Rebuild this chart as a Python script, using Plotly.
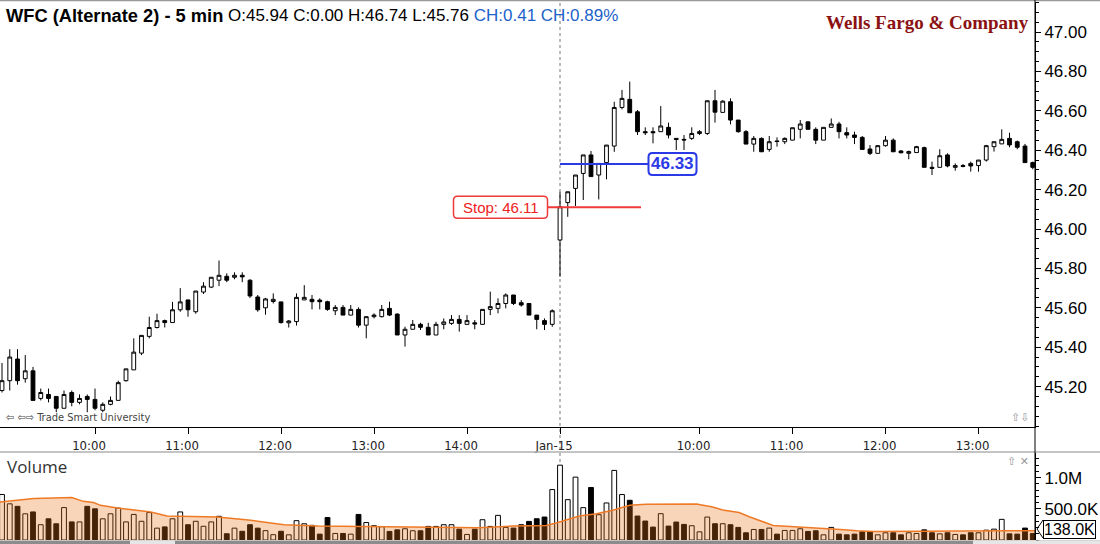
import plotly.graph_objects as go

# ---------------- data ----------------
opens = [45.18, 45.23, 45.34, 45.24, 45.28, 45.14, 45.16, 45.15, 45.09, 45.17,
         45.12, 45.15, 45.135, 45.08, 45.11, 45.13, 45.23, 45.285, 45.37, 45.455,
         45.50, 45.535, 45.525, 45.59, 45.64, 45.58, 45.68, 45.705, 45.74, 45.76,
         45.755, 45.765, 45.74, 45.655, 45.60, 45.632, 45.63, 45.524, 45.53, 45.64,
         45.643, 45.639, 45.631, 45.585, 45.602, 45.563, 45.592, 45.512, 45.555, 45.555,
         45.597, 45.568, 45.462, 45.491, 45.516, 45.501, 45.462, 45.516, 45.521, 45.541,
         45.516, 45.524, 45.516, 45.592, 45.597, 45.622, 45.665, 45.626, 45.622, 45.563,
         45.535, 45.516,
         45.944, 46.134, 46.206, 46.282, 46.376, 46.274, 46.337, 46.421, 46.617, 46.658,
         46.595, 46.494, 46.494, 46.494, 46.516, 46.460, 46.455, 46.460, 46.485, 46.485,
         46.651, 46.592, 46.646, 46.553, 46.494, 46.431, 46.460, 46.404, 46.447, 46.443,
         46.451, 46.506, 46.544, 46.506, 46.451, 46.516, 46.533, 46.489, 46.477, 46.465,
         46.406, 46.384, 46.423, 46.451, 46.396, 46.384, 46.388, 46.413, 46.313, 46.313,
         46.376, 46.313, 46.322, 46.333, 46.322, 46.350, 46.418, 46.432, 46.460, 46.443,
         46.421, 46.337]
highs = [45.32, 45.39, 45.39, 45.36, 45.30, 45.19, 45.19, 45.15, 45.18, 45.18,
         45.16, 45.16, 45.19, 45.12, 45.15, 45.23, 45.29, 45.445, 45.46, 45.555,
         45.57, 45.54, 45.63, 45.70, 45.64, 45.685, 45.73, 45.755, 45.84, 45.775,
         45.78, 45.78, 45.745, 45.665, 45.65, 45.673, 45.63, 45.538, 45.673, 45.715,
         45.665, 45.648, 45.636, 45.614, 45.614, 45.614, 45.602, 45.555, 45.572, 45.614,
         45.631, 45.572, 45.504, 45.538, 45.524, 45.524, 45.529, 45.546, 45.563, 45.563,
         45.563, 45.538, 45.592, 45.682, 45.648, 45.673, 45.665, 45.639, 45.622, 45.563,
         45.546, 45.592,
         46.189, 46.189, 46.274, 46.376, 46.396, 46.333, 46.426, 46.646, 46.706, 46.748,
         46.604, 46.516, 46.516, 46.624, 46.540, 46.460, 46.477, 46.516, 46.502, 46.651,
         46.706, 46.654, 46.663, 46.553, 46.502, 46.472, 46.465, 46.472, 46.465, 46.465,
         46.514, 46.553, 46.544, 46.516, 46.516, 46.561, 46.544, 46.516, 46.494, 46.472,
         46.426, 46.426, 46.472, 46.460, 46.401, 46.398, 46.422, 46.418, 46.342, 46.405,
         46.384, 46.333, 46.330, 46.342, 46.350, 46.427, 46.443, 46.506, 46.489, 46.449,
         46.432, 46.342]
lows = [45.17, 45.18, 45.21, 45.22, 45.13, 45.13, 45.12, 45.07, 45.09, 45.10,
        45.11, 45.07, 45.08, 45.07, 45.105, 45.13, 45.225, 45.285, 45.36, 45.445,
        45.495, 45.50, 45.525, 45.58, 45.555, 45.57, 45.67, 45.70, 45.71, 45.73,
        45.745, 45.73, 45.65, 45.58, 45.565, 45.622, 45.52, 45.50, 45.51, 45.64,
        45.592, 45.592, 45.585, 45.563, 45.563, 45.563, 45.50, 45.445, 45.546, 45.551,
        45.558, 45.462, 45.403, 45.491, 45.487, 45.462, 45.462, 45.491, 45.513, 45.479,
        45.513, 45.491, 45.516, 45.563, 45.572, 45.597, 45.614, 45.606, 45.563, 45.491,
        45.487, 45.504,
        45.758, 46.062, 46.117, 46.147, 46.266, 46.150, 46.252, 46.392, 46.607, 46.590,
        46.477, 46.477, 46.435, 46.494, 46.460, 46.401, 46.401, 46.452, 46.477, 46.477,
        46.540, 46.592, 46.531, 46.489, 46.431, 46.392, 46.392, 46.392, 46.418, 46.431,
        46.451, 46.460, 46.506, 46.431, 46.451, 46.516, 46.460, 46.460, 46.431, 46.404,
        46.375, 46.384, 46.418, 46.392, 46.384, 46.354, 46.388, 46.313, 46.274, 46.313,
        46.313, 46.296, 46.313, 46.291, 46.291, 46.342, 46.393, 46.432, 46.415, 46.405,
        46.337, 46.303]
closes = [45.23, 45.35, 45.23, 45.28, 45.13, 45.17, 45.14, 45.09, 45.16, 45.12,
          45.14, 45.135, 45.09, 45.11, 45.13, 45.22, 45.29, 45.375, 45.46, 45.50,
          45.535, 45.525, 45.59, 45.63, 45.59, 45.685, 45.71, 45.755, 45.765, 45.74,
          45.765, 45.757, 45.66, 45.59, 45.645, 45.643, 45.525, 45.533, 45.653, 45.653,
          45.631, 45.631, 45.592, 45.602, 45.563, 45.592, 45.512, 45.555, 45.563, 45.592,
          45.563, 45.462, 45.491, 45.516, 45.501, 45.462, 45.516, 45.528, 45.541, 45.521,
          45.535, 45.518, 45.592, 45.606, 45.622, 45.665, 45.622, 45.614, 45.563, 45.541,
          45.516, 45.585,
          46.113, 46.189, 46.274, 46.376, 46.266, 46.333, 46.426, 46.617, 46.663, 46.590,
          46.494, 46.489, 46.489, 46.523, 46.477, 46.455, 46.452, 46.485, 46.494, 46.651,
          46.593, 46.649, 46.553, 46.494, 46.431, 46.460, 46.392, 46.443, 46.444, 46.460,
          46.514, 46.533, 46.506, 46.451, 46.516, 46.533, 46.494, 46.477, 46.465, 46.404,
          46.384, 46.423, 46.451, 46.392, 46.387, 46.393, 46.418, 46.313, 46.308, 46.372,
          46.320, 46.322, 46.318, 46.320, 46.350, 46.423, 46.443, 46.455, 46.427, 46.415,
          46.337, 46.313]
# volume in millions of shares
volumes = [0.73, 0.58, 0.54, 0.42, 0.45, 0.245, 0.34, 0.26, 0.52, 0.29,
           0.29, 0.54, 0.50, 0.34, 0.42, 0.51, 0.29, 0.41, 0.30, 0.44,
           0.19, 0.21, 0.34, 0.45, 0.245, 0.30, 0.22, 0.29, 0.38, 0.10,
           0.19, 0.14, 0.245, 0.19, 0.15, 0.085, 0.14, 0.083, 0.31, 0.26,
           0.235, 0.094, 0.36, 0.105, 0.105, 0.094, 0.41, 0.28, 0.229, 0.213,
           0.137, 0.163, 0.180, 0.148, 0.148, 0.218, 0.218, 0.245, 0.245, 0.174,
           0.089, 0.174, 0.325, 0.218, 0.395, 0.202, 0.191, 0.245, 0.298, 0.341,
           0.368, 0.809,
           1.20, 0.647, 1.008, 0.519, 0.842, 0.406, 0.594, 1.116, 0.729, 0.637,
           0.384, 0.304, 0.207, 0.422, 0.223, 0.288, 0.250, 0.229, 0.131, 0.368,
           0.261, 0.261, 0.245, 0.202, 0.116, 0.169, 0.169, 0.191, 0.094, 0.153,
           0.153, 0.180, 0.137, 0.148, 0.083, 0.202, 0.094, 0.083, 0.094, 0.131,
           0.131, 0.083, 0.116, 0.116, 0.083, 0.116, 0.105, 0.163, 0.116, 0.099,
           0.116, 0.089, 0.083, 0.116, 0.116, 0.158, 0.174, 0.331, 0.099, 0.094,
           0.191, 0.105]
# volume average line, read at points along the curve (bar position, millions)
vol_avg_pos = [-0.3, 4.1, 9.0, 10.5, 11.8, 12.7, 14.9, 17.0, 19.2, 21.3, 27.8, 32.1,
               36.4, 40.8, 46.4, 52.0, 59.3, 61.5, 65.9, 70.2, 71.5, 73.2, 74.5,
               76.7, 78.8, 81.0, 83.1, 89.6, 91.7, 93.0, 95.1, 96.5, 99.5, 101.7,
               103.8, 106.0, 108.2, 110.3, 112.5, 129.8, 133.5]
vol_avg = [0.61, 0.664, 0.68, 0.62, 0.60, 0.556, 0.514, 0.487, 0.449, 0.384, 0.368, 0.315,
           0.245, 0.223, 0.215, 0.207, 0.207, 0.196, 0.223, 0.234, 0.272, 0.341, 0.384,
           0.422, 0.476, 0.556, 0.573, 0.578, 0.530, 0.48, 0.44, 0.368, 0.234, 0.218,
           0.202, 0.196, 0.169, 0.148, 0.137, 0.148, 0.15]

time_tick_bars = [12, 24, 36, 48, 60, 72, 90, 102, 114, 126]
time_tick_labels = ["10:00", "11:00", "12:00", "13:00", "14:00", "Jan-15",
                    "10:00", "11:00", "12:00", "13:00"]
price_ticks = [45.2, 45.4, 45.6, 45.8, 46.0, 46.2, 46.4, 46.6, 46.8, 47.0]
vol_ticks = [0.5, 1.0]
vol_tick_labels = ["500.0K", "1.0M"]

session_start_bar = 72
entry_price = 46.33
stop_price = 46.11
last_avg_label = "138.0K"

# ---------------- figure ----------------
W, H = 1100, 544
PLOT_R = 1035           # right edge of plot area (px)
PLOT_H = 540            # plot area height (t=0, b=4)
BAR_PX = 7.75
X0_PX = 2.0

def px_to_bar(px):
    return (px - X0_PX) / BAR_PX

def xp(px):            # pixel -> paper x
    return px / PLOT_R

def yp(py):            # pixel -> paper y
    return (PLOT_H - py) / PLOT_H

idx = list(range(len(opens)))
vol_colors = ["white" if c >= o else "black" for o, c in zip(opens, closes)]

fig = go.Figure()
fig.add_trace(go.Candlestick(
    x=idx, open=opens, high=highs, low=lows, close=closes,
    increasing=dict(line=dict(color="black", width=1), fillcolor="white"),
    decreasing=dict(line=dict(color="black", width=1), fillcolor="black"),
    whiskerwidth=0, hoverinfo="skip", showlegend=False,
    xaxis="x", yaxis="y"))
fig.add_trace(go.Bar(
    x=idx, y=volumes, width=0.62,
    marker=dict(color=vol_colors, line=dict(color="black", width=1)),
    hoverinfo="skip", showlegend=False, xaxis="x2", yaxis="y2"))
fig.add_trace(go.Scatter(
    x=vol_avg_pos, y=vol_avg, mode="lines", fill="tozeroy",
    fillcolor="rgba(232,112,24,0.30)", line=dict(color="#ee7a26", width=1.5),
    hoverinfo="skip", showlegend=False, xaxis="x2", yaxis="y2"))

xr = [px_to_bar(0), px_to_bar(PLOT_R)]
price_top = 47.0 + (32 - 2) / 197.0
price_bot = 47.0 - (427 - 32) / 197.0

axis_font = dict(family="Liberation Sans Narrow, DejaVu Sans Condensed, Arial", size=13, color="#222")
fig.update_layout(
    width=W, height=H,
    margin=dict(l=0, r=W - PLOT_R, t=0, b=H - PLOT_H),
    paper_bgcolor="white", plot_bgcolor="white",
    boxgap=0.3,
    xaxis=dict(domain=[0, 1], range=xr, anchor="y", tickvals=time_tick_bars,
               ticktext=time_tick_labels, ticks="outside", ticklen=6, tickcolor="black",
               showline=True, linecolor="black", linewidth=1, showgrid=False,
               zeroline=False, rangeslider=dict(visible=False), tickfont=axis_font,
               ticklabelshift=-6),
    yaxis=dict(domain=[yp(427), yp(2)], range=[price_bot, price_top], side="right",
               anchor="x", tickvals=price_ticks,
               ticktext=["%.2f" % v for v in price_ticks], ticks="outside",
               ticklen=5, tickcolor="black", showline=True, linecolor="black",
               showgrid=False, zeroline=False,
               tickfont=dict(family="Arial, Liberation Sans", size=17, color="black"),
               minor=dict(dtick=0.05, tick0=45.0, ticks="outside", ticklen=3,
                          tickcolor="black", showgrid=False)),
    xaxis2=dict(domain=[0, 1], range=xr, anchor="y2", showticklabels=False,
                showline=False, showgrid=False, zeroline=False, ticks=""),
    yaxis2=dict(domain=[0, yp(453)], range=[0, (539.5 - 453) / 62.0], side="right",
                anchor="x2", tickvals=vol_ticks, ticktext=vol_tick_labels,
                ticks="outside", ticklen=5, tickcolor="black", showline=True,
                linecolor="black", showgrid=False, zeroline=False,
                tickfont=dict(family="Arial, Liberation Sans", size=17, color="black"),
                minor=dict(dtick=0.1, tick0=0, ticks="outside", ticklen=3,
                           tickcolor="black", showgrid=False)),
)

def rrect(w, h, r):
    a, b = w / 2.0, h / 2.0
    return (f"M {-a + r},{-b} L {a - r},{-b} Q {a},{-b} {a},{-b + r} "
            f"L {a},{b - r} Q {a},{b} {a - r},{b} L {-a + r},{b} Q {-a},{b} {-a},{b - r} "
            f"L {-a},{-b + r} Q {-a},{-b} {-a + r},{-b} Z")

shapes = []
# session divider (beneath the candles)
shapes.append(dict(type="line", xref="x", yref="paper", x0=session_start_bar,
                   x1=session_start_bar, y0=0, y1=1, layer="below",
                   line=dict(color="#777", width=1, dash="3px,3px")))
# entry line + label box
shapes.append(dict(type="line", xref="x", yref="y", x0=px_to_bar(560), x1=px_to_bar(697),
                   y0=entry_price, y1=entry_price, line=dict(color="#2a3ae6", width=2)))
shapes.append(dict(type="path", xref="x", yref="y", xsizemode="pixel", ysizemode="pixel",
                   xanchor=px_to_bar(672.5), yanchor=entry_price, path=rrect(48, 22, 4),
                   fillcolor="white", line=dict(color="#2a3ae6", width=2)))
# stop line + label box
shapes.append(dict(type="line", xref="x", yref="y", x0=px_to_bar(547), x1=px_to_bar(641),
                   y0=stop_price, y1=stop_price, line=dict(color="#f03a3a", width=2)))
shapes.append(dict(type="path", xref="x", yref="y", xsizemode="pixel", ysizemode="pixel",
                   xanchor=px_to_bar(500.5), yanchor=stop_price, path=rrect(94, 22, 4),
                   fillcolor="white", line=dict(color="#f03a3a", width=1.5)))
# panel borders
shapes.append(dict(type="line", xref="paper", yref="paper", x0=0, x1=W / PLOT_R,
                   y0=yp(0.5), y1=yp(0.5), line=dict(color="#9a9a9a", width=1.5)))
shapes.append(dict(type="line", xref="paper", yref="paper", x0=0, x1=W / PLOT_R,
                   y0=yp(452), y1=yp(452), line=dict(color="#b0b0b0", width=1.5)))
shapes.append(dict(type="line", xref="paper", yref="paper", x0=1, x1=1,
                   y0=0, y1=1, line=dict(color="black", width=1)))
# pointer of the last-average label
shapes.append(dict(type="path", xref="paper", yref="paper", xsizemode="pixel",
                   ysizemode="pixel", xanchor=1, yanchor=yp(529),
                   path="M 8,9 L 2,0 L 8,-9", line=dict(color="black", width=1)))
# scroll bar at the bottom
shapes.append(dict(type="rect", xref="paper", yref="paper", x0=0, x1=W / PLOT_R,
                   y0=yp(544), y1=yp(540.5), line=dict(width=0), fillcolor="#8c8c8c"))
shapes.append(dict(type="rect", xref="paper", yref="paper", x0=xp(130), x1=xp(175),
                   y0=yp(544), y1=yp(540.5), line=dict(width=0), fillcolor="#e6e6e6"))
shapes.append(dict(type="rect", xref="paper", yref="paper", x0=xp(973), x1=W / PLOT_R,
                   y0=yp(544), y1=yp(540.5), line=dict(width=0), fillcolor="#e6e6e6"))
fig.update_layout(shapes=shapes)

ann = []
ann.append(dict(xref="paper", yref="paper", x=xp(4), y=yp(15), xanchor="left",
                yanchor="middle", showarrow=False, text="<b>WFC (Alternate 2) - 5 min</b>",
                font=dict(family="Arial, Liberation Sans", size=18.3, color="black")))
ann.append(dict(xref="paper", yref="paper", x=xp(226), y=yp(15), xanchor="left",
                yanchor="middle", showarrow=False,
                text=("O:45.94 C:0.00 H:46.74 L:45.76 "
                      "<span style='color:#1d62c9'>CH:0.41 CH:0.89%</span>"),
                font=dict(family="Arial, Liberation Sans", size=17, color="black")))
ann.append(dict(xref="paper", yref="paper", x=xp(1031), y=yp(22), xanchor="right",
                yanchor="middle", showarrow=False, text="<b>Wells Fargo &amp; Company</b>",
                font=dict(family="Liberation Serif, Times New Roman, serif", size=19,
                          color="#8b1212")))
ann.append(dict(xref="x", yref="y", x=px_to_bar(672.5), y=entry_price, showarrow=False,
                text="<b>46.33</b>", xanchor="center", yanchor="middle",
                font=dict(family="Arial, Liberation Sans", size=17, color="#2a3ae6")))
ann.append(dict(xref="x", yref="y", x=px_to_bar(500.5), y=stop_price, showarrow=False,
                text="Stop: 46.11", xanchor="center", yanchor="middle",
                font=dict(family="Arial, Liberation Sans", size=15, color="#ee2222")))
ann.append(dict(xref="paper", yref="paper", x=xp(4), y=yp(417), xanchor="left",
                yanchor="middle", showarrow=False, text="⇦ ⇦⇨ Trade Smart University",
                font=dict(family="DejaVu Sans Condensed, DejaVu Sans", size=11, color="#444")))
ann.append(dict(xref="paper", yref="paper", x=xp(1031), y=yp(417), xanchor="right",
                yanchor="middle", showarrow=False, text="⇧⇩",
                font=dict(family="DejaVu Sans", size=11, color="#999")))
ann.append(dict(xref="paper", yref="paper", x=xp(5), y=yp(466), xanchor="left",
                yanchor="middle", showarrow=False, text="Volume",
                font=dict(family="Open Sans, DejaVu Sans", size=17, color="#333")))
ann.append(dict(xref="paper", yref="paper", x=xp(1031), y=yp(461), xanchor="right",
                yanchor="middle", showarrow=False, text="⇧ ✕",
                font=dict(family="DejaVu Sans", size=11, color="#999")))
ann.append(dict(xref="paper", yref="paper", x=xp(1043), y=yp(529), xanchor="left",
                yanchor="middle", showarrow=False, text=last_avg_label,
                bgcolor="white", bordercolor="black", borderwidth=1, borderpad=0,
                font=dict(family="Arial, Liberation Sans", size=16, color="black")))
fig.update_layout(annotations=ann)

fig.write_html("out.html", config={"displayModeBar": False},
               post_script="document.body.style.margin='0';document.body.style.overflow='hidden';")
